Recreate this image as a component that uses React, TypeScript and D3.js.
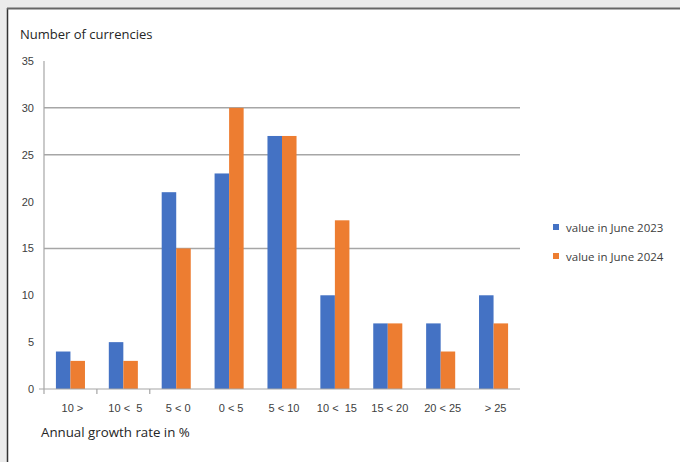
import React from "react";
import * as d3 from "d3";

const categories = ["10 >", "10 <  5", "5 < 0", "0 < 5", "5 < 10", "10 <  15", "15 < 20", "20 < 25", "> 25"];
const june2023 = [4, 5, 21, 23, 27, 10, 7, 7, 10];
const june2024 = [3, 3, 15, 30, 27, 18, 7, 4, 7];
const seriesNames = ["value in June 2023", "value in June 2024"];
const seriesColors = ["#4472c4", "#ed7d31"];
const yTicks = [0, 5, 10, 15, 20, 25, 30, 35];
const gridValues = [15, 25, 30];

export default function App() {
  const W = 680, H = 462;
  const left = 44, right = 520, top = 61, bottom = 389;
  const x = d3.scaleBand<string>().domain(categories).range([left, right]).paddingInner(0).paddingOuter(0);
  const inner = d3.scaleBand<number>().domain([0, 1]).range([0, x.bandwidth()]).paddingInner(0).paddingOuter(0.82);
  const y = d3.scaleLinear().domain([0, 35]).range([bottom, top]);
  const series = [june2023, june2024];
  const font = "'Liberation Sans', Arial, sans-serif";
  const font2 = "'Open Sans', sans-serif";
  const textColor = "#404040";
  const boundaries = [0, 1, 2];
  return (
    <div style={{ position: "fixed", left: 0, top: 0 }}>
      <svg width={W} height={H} style={{ display: "block" }}>
        <rect x={0} y={0} width={W} height={H} fill="#ebebeb" />
        <rect x={8} y={9} width={W} height={H} fill="#ffffff" />
        <line x1={7.5} x2={7.5} y1={8} y2={H} stroke="#333" strokeWidth={1.5} />
        <line x1={7} x2={W} y1={8.5} y2={8.5} stroke="#666" strokeWidth={2} />
        {gridValues.map((v) => (
          <line key={v} x1={left} x2={right} y1={y(v)} y2={y(v)} stroke="#a6a6a6" strokeWidth={1.5} />
        ))}
        {series.map((vals, si) =>
          vals.map((v, i) => (
            <rect
              key={si + "-" + i}
              x={(x(categories[i]) as number) + (inner(si) as number)}
              y={y(v)}
              width={inner.bandwidth()}
              height={y(0) - y(v)}
              fill={seriesColors[si]}
            />
          ))
        )}
        <line x1={left} x2={left} y1={top} y2={bottom} stroke="#a6a6a6" strokeWidth={1.2} />
        <line x1={left - 5} x2={right} y1={bottom} y2={bottom} stroke="#a6a6a6" strokeWidth={1.2} />
        {boundaries.map((b) => (
          <line key={b} x1={left + b * x.step()} x2={left + b * x.step()} y1={bottom} y2={bottom + 5} stroke="#a6a6a6" strokeWidth={1.2} />
        ))}
        {yTicks.map((t) => (
          <text key={t} x={34} y={y(t) + 4} textAnchor="end" fontSize={11} fontFamily={font} fill={textColor}>
            {t}
          </text>
        ))}
        {categories.map((c) => (
          <text key={c} x={(x(c) as number) + x.bandwidth() / 2 + 2} y={412} textAnchor="middle" fontSize={11} fontFamily={font} fill={textColor} style={{ whiteSpace: "pre" }}>
            {c}
          </text>
        ))}
        <text x={20} y={39} fontSize={13} fontFamily={font2} fill="#262626">Number of currencies</text>
        <text x={41} y={437} fontSize={13.3} fontFamily={font2} fill="#262626">Annual growth rate in %</text>
        {seriesNames.map((n, i) => (
          <g key={n} transform={`translate(553, ${224 + i * 29})`}>
            <rect x={0} y={0} width={6} height={6} fill={seriesColors[i]} />
            <text x={13} y={7.5} fontSize={11.5} fontFamily={font2} fill={textColor}>{n}</text>
          </g>
        ))}
      </svg>
    </div>
  );
}
